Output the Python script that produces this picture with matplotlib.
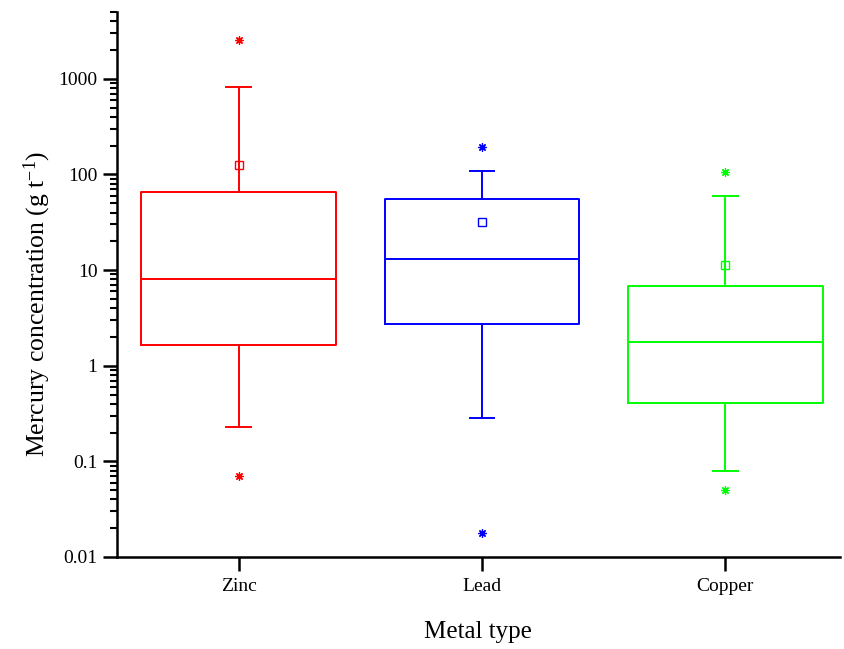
import matplotlib
matplotlib.use('Agg')
import matplotlib.pyplot as plt
from matplotlib.ticker import LogLocator, FixedLocator, FuncFormatter, NullFormatter

plt.rcParams['font.family'] = 'Liberation Serif'
plt.rcParams['mathtext.fontset'] = 'custom'
plt.rcParams['mathtext.rm'] = 'Liberation Serif'
plt.rcParams['mathtext.it'] = 'Liberation Serif:italic'

# box statistics
metals = ['Zinc', 'Lead', 'Copper']
colors = ['#ff0000', '#0000ff', '#00ff00']
q1 = [1.66, 2.75, 0.41]
median = [8.0, 13.0, 1.78]
q3 = [65, 55, 6.8]
whisker_low = [0.23, 0.286, 0.08]
whisker_high = [825, 110, 60]
means = [127, 32, 11.3]
outliers = [[0.07, 2570], [0.0178, 195], [0.05, 107]]

fig = plt.figure(figsize=(8.44, 6.49), dpi=100)
ax = fig.add_axes([0.1386, 0.1418, 0.8564, 0.8397])

positions = [1, 2, 3]
for i in range(len(metals)):
    st = dict(med=median[i], q1=q1[i], q3=q3[i], whislo=whisker_low[i],
              whishi=whisker_high[i], mean=means[i], fliers=[], label=metals[i])
    c = colors[i]
    ax.bxp([st], positions=[positions[i]], widths=0.8, capwidths=0.1,
           showmeans=True, showfliers=False,
           boxprops=dict(color=c, lw=1.4),
           whiskerprops=dict(color=c, lw=1.4),
           capprops=dict(color=c, lw=1.4),
           medianprops=dict(color=c, lw=1.4),
           meanprops=dict(marker='s', markerfacecolor='none', markeredgecolor=c,
                          markersize=6, markeredgewidth=1))
    ax.plot([positions[i]] * len(outliers[i]), outliers[i], linestyle='none',
            marker=(8, 2, 0), markersize=6, markeredgecolor=c, markeredgewidth=0.9)

ax.set_yscale('log')
ax.set_ylim(0.01, 5000)
ax.set_xlim(0.5, 3.47)
ax.set_xticks(positions)
ax.set_xticklabels(metals)

ax.yaxis.set_major_locator(FixedLocator([0.01, 0.1, 1, 10, 100, 1000]))
ax.yaxis.set_major_formatter(FuncFormatter(lambda v, p: ('%g' % v)))
ax.yaxis.set_minor_locator(LogLocator(base=10, subs=range(2, 10), numticks=20))
ax.yaxis.set_minor_formatter(NullFormatter())

for s in ['top', 'right']:
    ax.spines[s].set_visible(False)
for s in ['left', 'bottom']:
    ax.spines[s].set_linewidth(1.8)

ax.tick_params(axis='both', which='major', direction='out', length=10, width=1.8,
               labelsize=14, pad=4)
ax.tick_params(axis='y', which='minor', direction='out', length=5, width=1.5)
ax.tick_params(axis='x', which='major', labelsize=14, pad=5)

ax.set_xlabel('Metal type', fontsize=18, labelpad=19)
ax.set_ylabel('Mercury concentration (g t$^{-1}$)', fontsize=18.5, labelpad=2)
ax.yaxis.set_label_coords(-0.088, 0.465)

fig.savefig('out.png', dpi=100)
